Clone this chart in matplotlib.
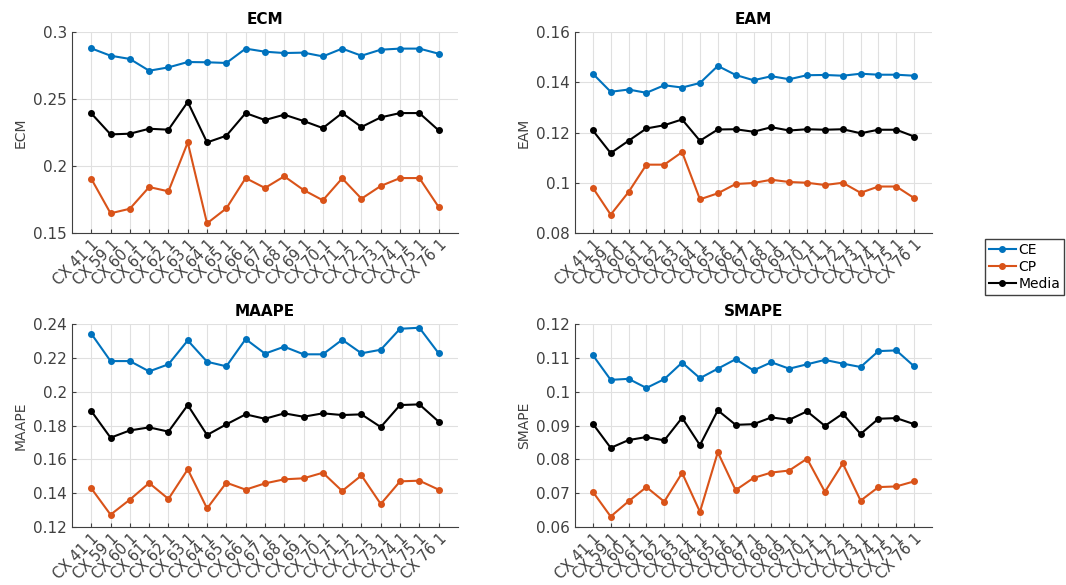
import matplotlib
matplotlib.use("Agg")
import matplotlib.pyplot as plt
from matplotlib.ticker import FormatStrFormatter

# Categories on the x axis
casos = ["CX 41 1", "CX 59 1", "CX 60 1", "CX 61 1", "CX 62 1", "CX 63 1", "CX 64 1",
         "CX 65 1", "CX 66 1", "CX 67 1", "CX 68 1", "CX 69 1", "CX 70 1", "CX 71 1",
         "CX 72 1", "CX 73 1", "CX 74 1", "CX 75 1", "CX 76 1"]

# ECM
ecm_ce = [0.2878, 0.2823, 0.2799, 0.2711, 0.2736, 0.2776, 0.2774, 0.2769, 0.2876, 0.2853,
          0.2843, 0.2846, 0.2818, 0.2876, 0.2823, 0.2868, 0.2876, 0.2876, 0.2838]
ecm_cp = [0.1905, 0.1647, 0.1681, 0.1843, 0.1811, 0.2176, 0.1572, 0.1684, 0.1910, 0.1836,
          0.1923, 0.1821, 0.1744, 0.1908, 0.1756, 0.1851, 0.1910, 0.1910, 0.1694]
ecm_media = [0.2393, 0.2236, 0.2241, 0.2278, 0.2271, 0.2478, 0.2176, 0.2226, 0.2395, 0.2343,
             0.2383, 0.2336, 0.2283, 0.2395, 0.2291, 0.2363, 0.2395, 0.2395, 0.2266]

# EAM
eam_ce = [0.1434, 0.1362, 0.1371, 0.1358, 0.1388, 0.1379, 0.1397, 0.1465, 0.1429, 0.1408,
          0.1424, 0.1412, 0.1428, 0.1429, 0.1426, 0.1434, 0.1430, 0.1430, 0.1426]
eam_cp = [0.0980, 0.0873, 0.0963, 0.1072, 0.1072, 0.1122, 0.0934, 0.0958, 0.0995, 0.0999,
          0.1012, 0.1003, 0.1000, 0.0991, 0.1000, 0.0960, 0.0985, 0.0985, 0.0939]
eam_media = [0.1208, 0.1118, 0.1167, 0.1216, 0.1229, 0.1252, 0.1167, 0.1212, 0.1213, 0.1203,
             0.1221, 0.1208, 0.1213, 0.1211, 0.1213, 0.1197, 0.1211, 0.1211, 0.1184]

# MAAPE
maape_ce = [0.2343, 0.2181, 0.2181, 0.2120, 0.2162, 0.2303, 0.2177, 0.2150, 0.2311, 0.2225,
            0.2266, 0.2221, 0.2221, 0.2307, 0.2227, 0.2248, 0.2372, 0.2378, 0.2227]
maape_cp = [0.1429, 0.1273, 0.1362, 0.1460, 0.1366, 0.1541, 0.1310, 0.1462, 0.1421, 0.1458,
            0.1482, 0.1488, 0.1521, 0.1413, 0.1505, 0.1336, 0.1470, 0.1474, 0.1421]
maape_media = [0.1886, 0.1728, 0.1771, 0.1789, 0.1764, 0.1921, 0.1744, 0.1807, 0.1866, 0.1840,
               0.1872, 0.1852, 0.1872, 0.1862, 0.1866, 0.1791, 0.1921, 0.1925, 0.1823]

# SMAPE
smape_ce = [0.1108, 0.1035, 0.1038, 0.1011, 0.1037, 0.1086, 0.1040, 0.1068, 0.1096, 0.1063,
            0.1087, 0.1068, 0.1081, 0.1094, 0.1083, 0.1073, 0.1120, 0.1122, 0.1075]
smape_cp = [0.0704, 0.0631, 0.0676, 0.0718, 0.0675, 0.0760, 0.0645, 0.0821, 0.0709, 0.0745,
            0.0761, 0.0767, 0.0802, 0.0704, 0.0788, 0.0678, 0.0718, 0.0720, 0.0735]
smape_media = [0.0905, 0.0834, 0.0857, 0.0866, 0.0856, 0.0923, 0.0842, 0.0945, 0.0902, 0.0904,
               0.0924, 0.0917, 0.0942, 0.0899, 0.0935, 0.0875, 0.0920, 0.0922, 0.0904]

azul = "#0072BD"
naranja = "#D95319"
gris = "#404040"

plt.rcParams["font.family"] = "DejaVu Sans"

fig = plt.figure(figsize=(10.66, 5.85), dpi=100)

paneles = [
    ("ECM", ecm_ce, ecm_cp, ecm_media, (0.15, 0.30), [0.15, 0.2, 0.25, 0.3], [0.0675, 0.6017, 0.3621, 0.3436]),
    ("EAM", eam_ce, eam_cp, eam_media, (0.08, 0.16), [0.08, 0.1, 0.12, 0.14, 0.16], [0.5394, 0.6017, 0.3349, 0.3436]),
    ("MAAPE", maape_ce, maape_cp, maape_media, (0.12, 0.24), [0.12, 0.14, 0.16, 0.18, 0.2, 0.22, 0.24], [0.0675, 0.0991, 0.3621, 0.3470]),
    ("SMAPE", smape_ce, smape_cp, smape_media, (0.06, 0.12), [0.06, 0.07, 0.08, 0.09, 0.1, 0.11, 0.12], [0.5394, 0.0991, 0.3349, 0.3470]),
]

x = list(range(len(casos)))
for nombre, ce, cp, media, ylim, yticks, pos in paneles:
    ax = fig.add_axes(pos)
    l1, = ax.plot(x, ce, ".-", color=azul, lw=1.5, ms=8, label="CE")
    l2, = ax.plot(x, cp, ".-", color=naranja, lw=1.5, ms=8, label="CP")
    l3, = ax.plot(x, media, ".-", color="black", lw=1.5, ms=8, label="Media")
    ax.set_xlim(-1, len(casos))
    ax.set_ylim(*ylim)
    ax.set_yticks(yticks)
    ax.yaxis.set_major_formatter(FormatStrFormatter("%g"))
    ax.set_xticks(x)
    ax.set_xticklabels(casos, rotation=45, ha="right", rotation_mode="anchor")
    ax.set_title(nombre, fontsize=11, fontweight="bold", pad=6)
    ax.set_ylabel(nombre, fontsize=10, color=gris)
    ax.grid(True, color="#e0e0e0", lw=0.8)
    ax.set_axisbelow(True)
    for s in ["top", "right"]:
        ax.spines[s].set_visible(False)
    for s in ["left", "bottom"]:
        ax.spines[s].set_color(gris)
    ax.tick_params(axis="both", direction="in", length=3, colors=gris, labelsize=11)
    ax.tick_params(axis="x", labelsize=10.5, pad=3)

fig.legend([l1, l2, l3], ["CE", "CP", "Media"], loc="upper left",
           bbox_to_anchor=(985 / 1066, 1 - 239 / 585), fontsize=10,
           frameon=True, fancybox=False, edgecolor=gris, framealpha=1,
           handlelength=1.9, borderpad=0.3, labelspacing=0.2, handletextpad=0.2,
           borderaxespad=0)

fig.savefig("out.png", dpi=100)
